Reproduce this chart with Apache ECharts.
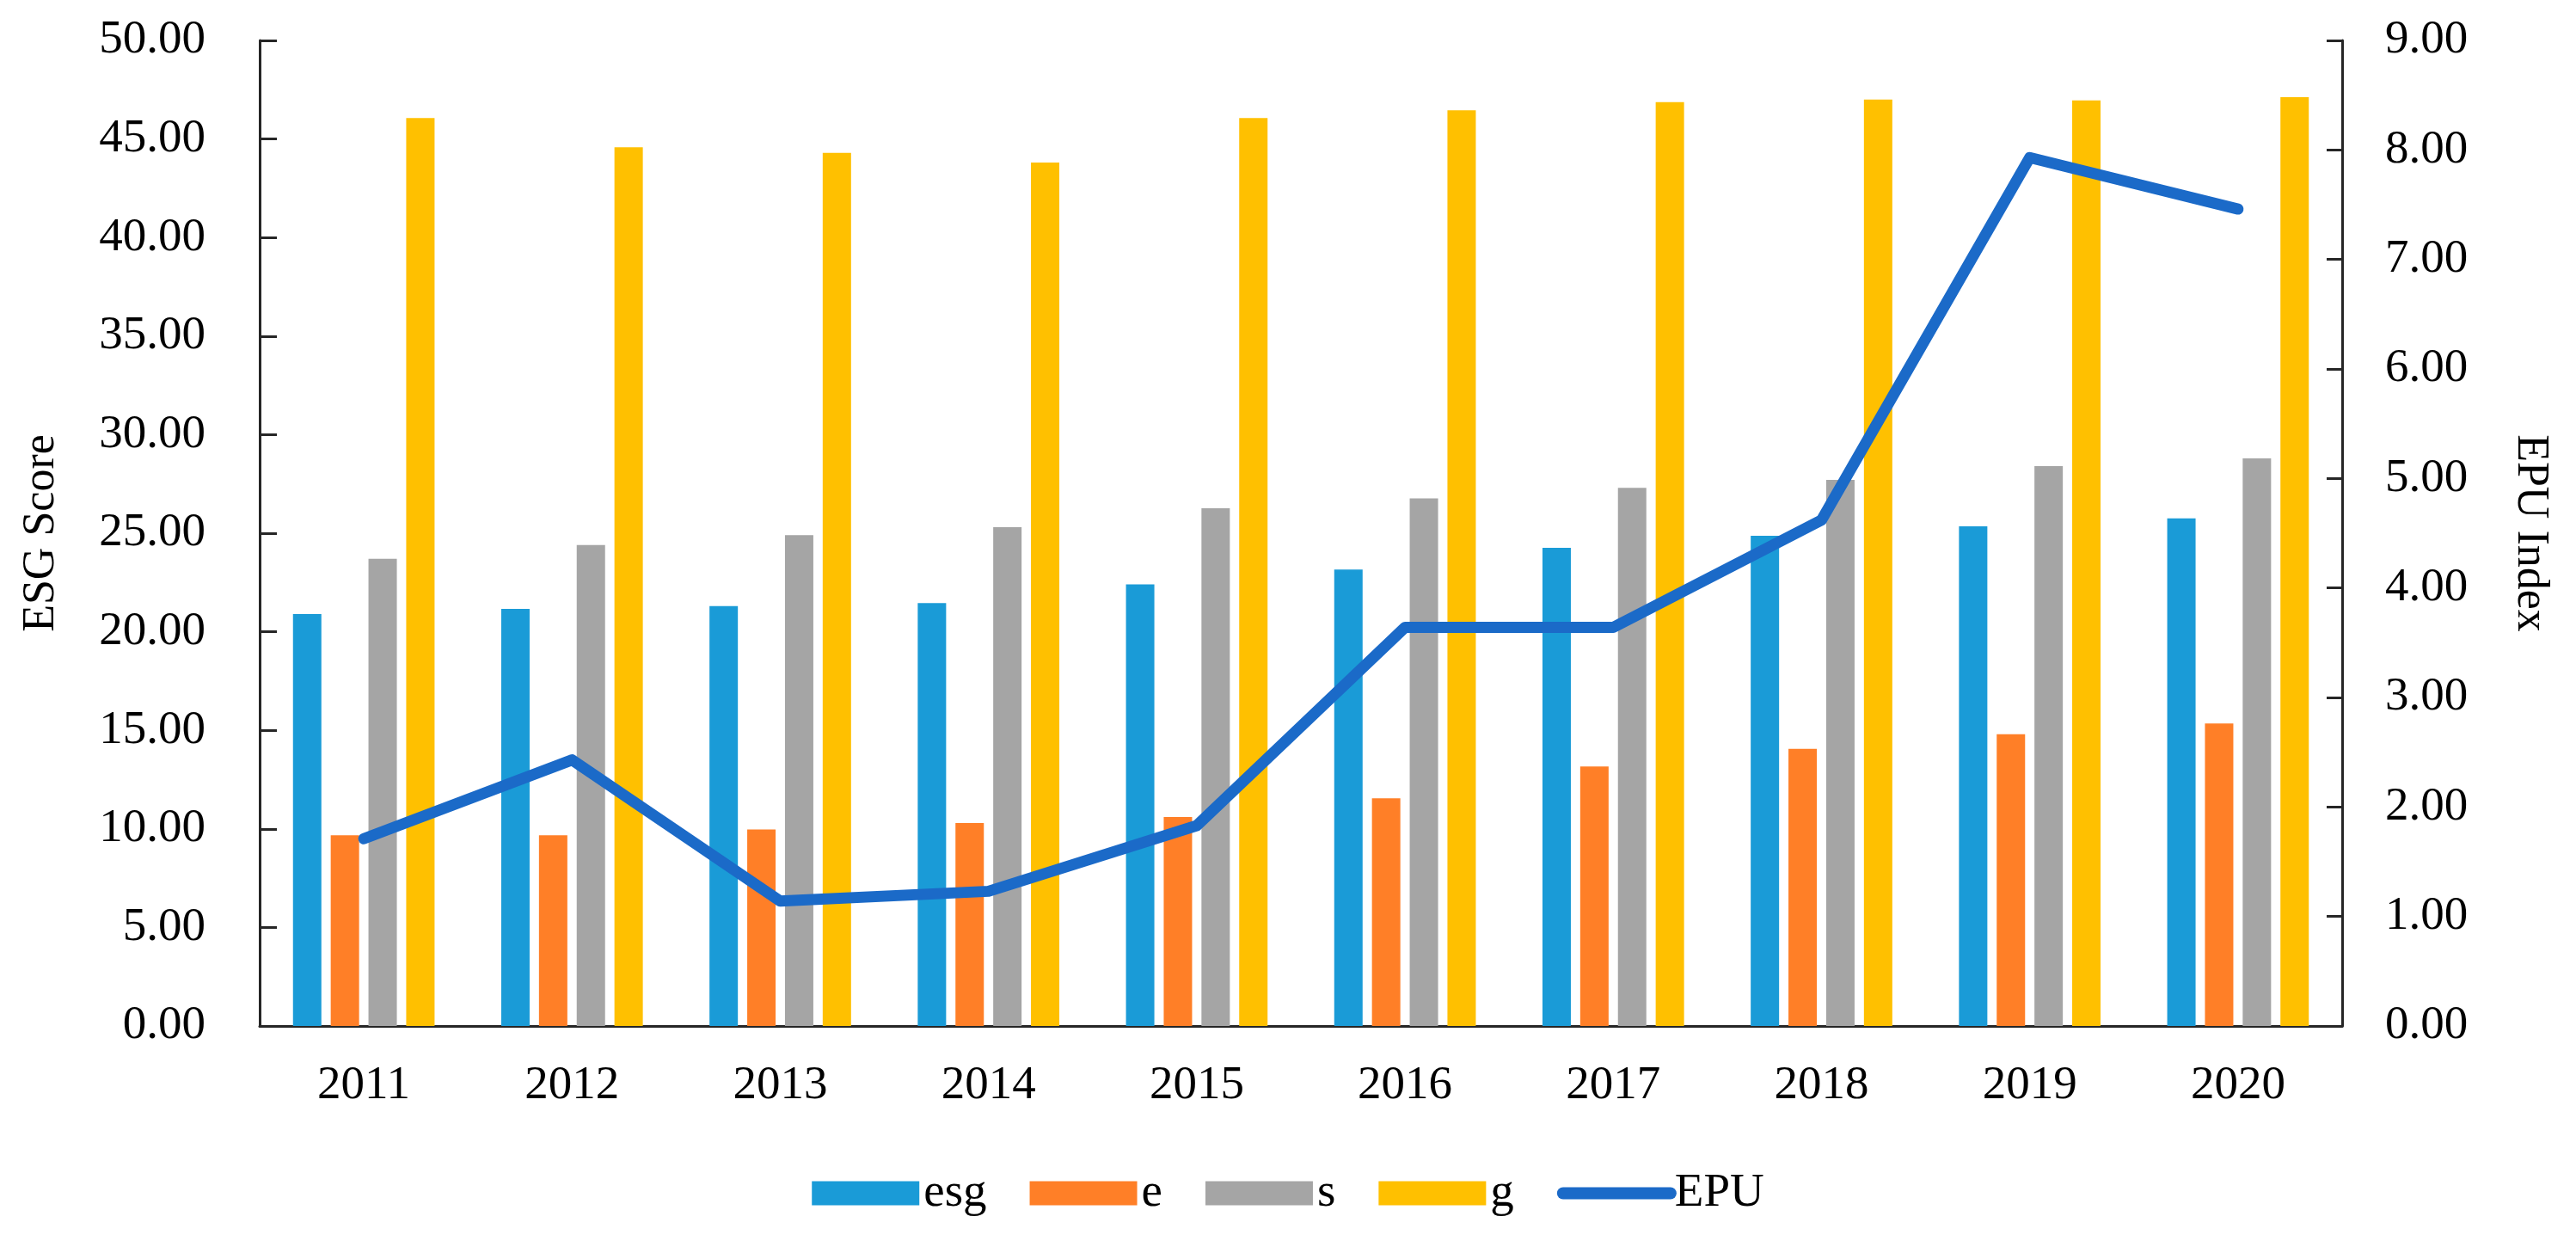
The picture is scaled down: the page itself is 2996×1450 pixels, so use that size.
<!DOCTYPE html>
<html>
<head>
<meta charset="utf-8">
<script src="https://cdn.jsdelivr.net/npm/echarts@6/dist/echarts.min.js"></script>
<style>
html,body{margin:0;padding:0;background:#fff;}
#chart{width:2996px;height:1450px;}
</style>
</head>
<body>
<div id="chart"></div>
<script>
var years = ['2011','2012','2013','2014','2015','2016','2017','2018','2019','2020'];
var esgScore = [20.90, 21.16, 21.30, 21.45, 22.40, 23.16, 24.26, 24.87, 25.35, 25.75];
var eScore = [9.68, 9.68, 9.97, 10.30, 10.60, 11.55, 13.16, 14.06, 14.80, 15.35];
var sScore = [23.70, 24.40, 24.90, 25.30, 26.26, 26.77, 27.30, 27.70, 28.40, 28.80];
var gScore = [46.06, 44.58, 44.30, 43.80, 46.06, 46.45, 46.87, 47.00, 46.96, 47.12];
var epuIndex = [1.71, 2.43, 1.14, 1.23, 1.83, 3.64, 3.64, 4.62, 7.93, 7.46];

var FONT = "'Liberation Serif', 'Times New Roman', serif";
var axisLineStyle = {color: '#262626', width: 3};

var chart = echarts.init(document.getElementById('chart'));
chart.setOption({
  animation: false,
  backgroundColor: '#ffffff',
  textStyle: {fontFamily: FONT, color: '#000'},
  grid: {left: 302, right: 272, top: 47, bottom: 257, containLabel: false},
  legend: {
    top: 1355,
    left: 'center',
    itemWidth: 125,
    itemHeight: 28,
    itemGap: 50,
    textStyle: {fontFamily: FONT, fontSize: 55, color: '#000'},
    data: [
      {name: 'esg', icon: 'rect'},
      {name: 'e', icon: 'rect'},
      {name: 's', icon: 'rect'},
      {name: 'g', icon: 'rect'},
      {name: 'EPU', itemStyle: {opacity: 0}, lineStyle: {width: 14, cap: 'round', color: '#1B6AC8'}}
    ]
  },
  xAxis: {
    type: 'category',
    data: years,
    boundaryGap: true,
    axisLine: {lineStyle: axisLineStyle},
    axisTick: {inside: true, length: 18, lineStyle: axisLineStyle},
    axisLabel: {fontFamily: FONT, fontSize: 55, color: '#000', margin: 42}
  },
  yAxis: [
    {
      type: 'value',
      min: 0, max: 50, interval: 5,
      name: 'ESG Score',
      nameLocation: 'middle',
      nameGap: 228,
      nameTextStyle: {fontFamily: FONT, fontSize: 52, color: '#000'},
      axisLine: {show: true, lineStyle: axisLineStyle},
      axisTick: {show: true, inside: true, length: 20, lineStyle: axisLineStyle},
      splitLine: {show: false},
      axisLabel: {fontFamily: FONT, fontSize: 55, color: '#000', margin: 63,
        formatter: function (v) { return v.toFixed(2); }}
    },
    {
      type: 'value',
      position: 'right',
      min: 0, max: 9, interval: 1,
      name: 'EPU Index',
      nameLocation: 'middle',
      nameRotate: -90,
      nameGap: 193,
      nameTextStyle: {fontFamily: FONT, fontSize: 52, color: '#000'},
      axisLine: {show: true, lineStyle: axisLineStyle},
      axisTick: {show: true, inside: true, length: 18, lineStyle: axisLineStyle},
      splitLine: {show: false},
      axisLabel: {fontFamily: FONT, fontSize: 55, color: '#000', margin: 50,
        formatter: function (v) { return v.toFixed(2); }}
    }
  ],
  series: [
    {name: 'esg', type: 'bar', data: esgScore, barWidth: 33, barGap: '33%', itemStyle: {color: '#1A9BD7'}},
    {name: 'e', type: 'bar', data: eScore, barWidth: 33, barGap: '33%', itemStyle: {color: '#FF7F27'}},
    {name: 's', type: 'bar', data: sScore, barWidth: 33, barGap: '33%', itemStyle: {color: '#A5A5A5'}},
    {name: 'g', type: 'bar', data: gScore, barWidth: 33, barGap: '33%', itemStyle: {color: '#FFC000'}},
    {name: 'EPU', type: 'line', yAxisIndex: 1, data: epuIndex, symbol: 'none', z: 5,
      lineStyle: {color: '#1B6AC8', width: 13, cap: 'round', join: 'round'},
      itemStyle: {color: '#1B6AC8'}}
  ]
});
</script>
</body>
</html>
